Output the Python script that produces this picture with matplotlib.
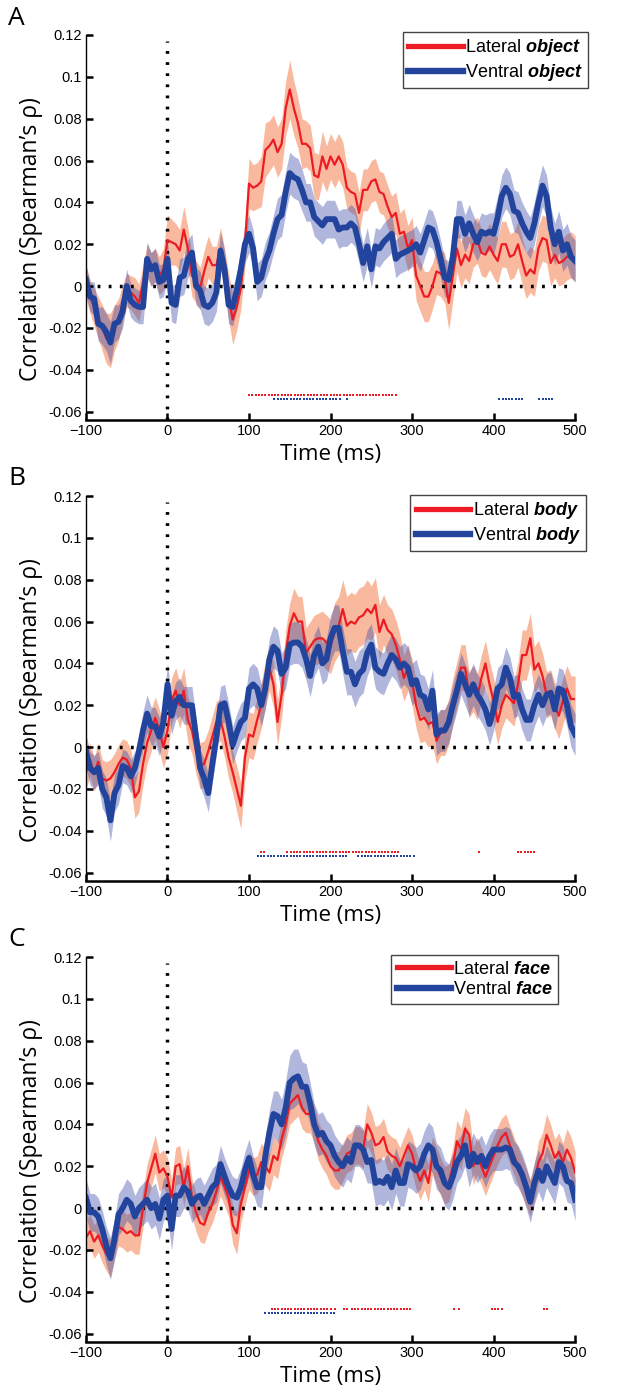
import matplotlib
matplotlib.use('Agg')
import matplotlib.pyplot as plt
from matplotlib.lines import Line2D
import numpy as np

plt.rcParams['font.family'] = ['Liberation Sans', 'DejaVu Sans']
plt.rcParams['mathtext.fontset'] = 'custom'
plt.rcParams['mathtext.bfit'] = 'Liberation Sans:italic:bold'
plt.rcParams['mathtext.rm'] = 'Liberation Sans'

# time axis, 5 ms steps from -100 to 500 ms
time_ms = np.arange(-100, 501, 5)

# ---- panel A: object ----
lat_object = [
    0.002, -0.005, -0.010, -0.015, -0.020, -0.025, -0.026, -0.020, -0.016, -0.008,
    -0.002, -0.003, -0.005, -0.008, 0.002, 0.012, 0.008, 0.010, 0.005, 0.008,
    0.022, 0.021, 0.020, 0.017, 0.027, 0.018, 0.005, 0.002, -0.001, 0.007,
    0.014, 0.010, 0.010, 0.018, 0.008, -0.005, -0.016, -0.010, -0.001, 0.020,
    0.049, 0.047, 0.048, 0.050, 0.065, 0.067, 0.070, 0.064, 0.068, 0.085,
    0.094, 0.085, 0.078, 0.068, 0.068, 0.066, 0.053, 0.052, 0.062, 0.056,
    0.062, 0.058, 0.062, 0.058, 0.047, 0.045, 0.044, 0.035, 0.046, 0.046,
    0.050, 0.051, 0.045, 0.044, 0.038, 0.033, 0.035, 0.025, 0.026, 0.018,
    0.022, 0.005, 0.000, -0.005, -0.005, 0.000, 0.007, 0.006, 0.004, -0.008,
    0.005, 0.018, 0.010, 0.015, 0.012, 0.020, 0.022, 0.016, 0.015, 0.019,
    0.015, 0.012, 0.020, 0.020, 0.014, 0.015, 0.020, 0.012, 0.005, 0.008,
    0.006, 0.018, 0.023, 0.022, 0.011, 0.015, 0.011, 0.012, 0.014, 0.015,
    0.013]
lat_object_sem = [
    0.008, 0.008, 0.009, 0.010, 0.011, 0.012, 0.013, 0.011, 0.010, 0.009,
    0.008, 0.008, 0.009, 0.009, 0.008, 0.008, 0.008, 0.008, 0.009, 0.010,
    0.012, 0.011, 0.010, 0.010, 0.011, 0.010, 0.010, 0.010, 0.010, 0.010,
    0.010, 0.009, 0.009, 0.010, 0.010, 0.011, 0.012, 0.011, 0.010, 0.011,
    0.012, 0.011, 0.011, 0.012, 0.013, 0.012, 0.012, 0.012, 0.012, 0.013,
    0.014, 0.013, 0.012, 0.012, 0.011, 0.011, 0.011, 0.011, 0.012, 0.011,
    0.011, 0.011, 0.011, 0.011, 0.010, 0.010, 0.010, 0.010, 0.010, 0.010,
    0.010, 0.010, 0.010, 0.010, 0.010, 0.010, 0.010, 0.010, 0.011, 0.011,
    0.011, 0.012, 0.012, 0.012, 0.012, 0.011, 0.011, 0.011, 0.012, 0.013,
    0.012, 0.011, 0.011, 0.011, 0.011, 0.011, 0.011, 0.011, 0.011, 0.011,
    0.011, 0.011, 0.011, 0.011, 0.011, 0.011, 0.011, 0.011, 0.011, 0.011,
    0.011, 0.011, 0.011, 0.011, 0.011, 0.011, 0.011, 0.011, 0.011, 0.011,
    0.011]
ven_object = [
    0.003, -0.005, -0.006, -0.018, -0.019, -0.022, -0.027, -0.018, -0.017, -0.012,
    0.000, -0.007, -0.009, -0.010, -0.010, 0.013, 0.008, 0.010, 0.002, 0.003,
    0.013, -0.008, -0.009, 0.004, 0.005, 0.013, 0.016, 0.000, -0.002, -0.009,
    -0.010, -0.008, -0.003, 0.017, 0.008, -0.009, -0.010, -0.002, 0.008, 0.020,
    0.025, 0.018, 0.002, 0.004, 0.012, 0.017, 0.025, 0.032, 0.034, 0.045,
    0.054, 0.052, 0.051, 0.046, 0.040, 0.040, 0.033, 0.031, 0.029, 0.032,
    0.032, 0.032, 0.027, 0.028, 0.028, 0.030, 0.028, 0.020, 0.011, 0.019,
    0.008, 0.019, 0.018, 0.021, 0.023, 0.025, 0.013, 0.015, 0.016, 0.017,
    0.018, 0.020, 0.016, 0.022, 0.028, 0.027, 0.021, 0.013, 0.004, 0.003,
    0.014, 0.032, 0.032, 0.025, 0.030, 0.025, 0.021, 0.026, 0.025, 0.026,
    0.025, 0.033, 0.043, 0.047, 0.044, 0.036, 0.035, 0.030, 0.026, 0.023,
    0.030, 0.040, 0.048, 0.043, 0.028, 0.020, 0.026, 0.017, 0.020, 0.014,
    0.012]
ven_object_sem = [
    0.007, 0.007, 0.008, 0.008, 0.009, 0.009, 0.010, 0.009, 0.008, 0.008,
    0.008, 0.008, 0.008, 0.008, 0.008, 0.008, 0.008, 0.008, 0.008, 0.008,
    0.009, 0.009, 0.009, 0.009, 0.009, 0.009, 0.009, 0.009, 0.009, 0.009,
    0.009, 0.009, 0.009, 0.009, 0.009, 0.009, 0.009, 0.009, 0.009, 0.009,
    0.009, 0.009, 0.009, 0.009, 0.009, 0.009, 0.009, 0.010, 0.010, 0.010,
    0.010, 0.010, 0.010, 0.010, 0.009, 0.009, 0.009, 0.009, 0.009, 0.009,
    0.009, 0.009, 0.009, 0.009, 0.009, 0.009, 0.009, 0.009, 0.009, 0.009,
    0.009, 0.009, 0.009, 0.009, 0.009, 0.009, 0.009, 0.009, 0.009, 0.009,
    0.009, 0.009, 0.009, 0.009, 0.009, 0.009, 0.009, 0.009, 0.009, 0.009,
    0.009, 0.009, 0.009, 0.009, 0.009, 0.009, 0.009, 0.009, 0.009, 0.009,
    0.010, 0.010, 0.010, 0.010, 0.010, 0.010, 0.010, 0.010, 0.010, 0.010,
    0.010, 0.010, 0.010, 0.010, 0.010, 0.010, 0.010, 0.010, 0.010, 0.010,
    0.010]

# ---- panel B: body ----
lat_body = [
    -0.012, -0.006, -0.013, -0.007, -0.015, -0.016, -0.015, -0.012, -0.008, -0.005,
    -0.006, -0.010, -0.024, -0.021, -0.008, 0.002, 0.008, 0.014, 0.008, 0.000,
    0.008, 0.022, 0.027, 0.020, 0.027, 0.013, 0.008, -0.002, -0.009, -0.008,
    -0.002, 0.005, 0.012, 0.013, 0.005, -0.005, -0.012, -0.020, -0.028, -0.005,
    0.006, 0.005, 0.013, 0.020, 0.030, 0.038, 0.030, 0.012, 0.025, 0.045,
    0.058, 0.064, 0.060, 0.060, 0.045, 0.048, 0.051, 0.052, 0.052, 0.050,
    0.048, 0.055, 0.058, 0.066, 0.058, 0.060, 0.059, 0.062, 0.063, 0.066,
    0.064, 0.068, 0.055, 0.061, 0.056, 0.054, 0.049, 0.042, 0.033, 0.038,
    0.031, 0.020, 0.013, 0.014, 0.011, 0.012, 0.003, 0.007, 0.007, 0.012,
    0.022, 0.030, 0.038, 0.038, 0.025, 0.028, 0.024, 0.033, 0.040, 0.030,
    0.022, 0.012, 0.020, 0.025, 0.023, 0.021, 0.030, 0.044, 0.044, 0.052,
    0.037, 0.040, 0.034, 0.025, 0.026, 0.020, 0.015, 0.022, 0.028, 0.023,
    0.023]
lat_body_sem = [
    0.008, 0.008, 0.008, 0.009, 0.009, 0.009, 0.009, 0.009, 0.009, 0.009,
    0.009, 0.009, 0.010, 0.010, 0.010, 0.010, 0.010, 0.010, 0.010, 0.010,
    0.011, 0.011, 0.011, 0.011, 0.011, 0.011, 0.011, 0.011, 0.011, 0.011,
    0.010, 0.010, 0.010, 0.010, 0.010, 0.010, 0.010, 0.011, 0.011, 0.011,
    0.011, 0.011, 0.011, 0.011, 0.011, 0.011, 0.011, 0.011, 0.011, 0.011,
    0.011, 0.012, 0.012, 0.012, 0.012, 0.012, 0.012, 0.012, 0.013, 0.013,
    0.013, 0.014, 0.014, 0.014, 0.014, 0.014, 0.014, 0.014, 0.014, 0.014,
    0.013, 0.013, 0.013, 0.012, 0.012, 0.012, 0.012, 0.012, 0.011, 0.011,
    0.011, 0.011, 0.011, 0.011, 0.011, 0.011, 0.011, 0.011, 0.011, 0.011,
    0.011, 0.011, 0.011, 0.011, 0.011, 0.011, 0.011, 0.011, 0.011, 0.011,
    0.011, 0.011, 0.011, 0.011, 0.011, 0.011, 0.011, 0.012, 0.012, 0.012,
    0.011, 0.011, 0.011, 0.011, 0.011, 0.011, 0.011, 0.011, 0.011, 0.011,
    0.011]
ven_body = [
    -0.002, -0.010, -0.012, -0.010, -0.020, -0.024, -0.035, -0.022, -0.018, -0.009,
    -0.010, -0.014, -0.010, -0.002, 0.008, 0.016, 0.010, 0.010, 0.005, 0.012,
    0.030, 0.015, 0.022, 0.024, 0.020, 0.020, 0.020, 0.005, -0.010, -0.015,
    -0.022, -0.008, 0.005, 0.020, 0.021, 0.012, 0.001, 0.007, 0.012, 0.014,
    0.028, 0.030, 0.028, 0.020, 0.028, 0.042, 0.048, 0.046, 0.035, 0.038,
    0.049, 0.050, 0.050, 0.048, 0.042, 0.034, 0.044, 0.048, 0.040, 0.042,
    0.052, 0.057, 0.057, 0.046, 0.036, 0.036, 0.030, 0.035, 0.037, 0.045,
    0.049, 0.038, 0.036, 0.035, 0.040, 0.044, 0.042, 0.038, 0.040, 0.038,
    0.030, 0.032, 0.025, 0.024, 0.018, 0.027, 0.006, 0.008, 0.008, 0.012,
    0.020, 0.027, 0.035, 0.030, 0.025, 0.030, 0.025, 0.022, 0.018, 0.011,
    0.018, 0.028, 0.030, 0.038, 0.033, 0.024, 0.025, 0.018, 0.013, 0.013,
    0.020, 0.025, 0.020, 0.025, 0.026, 0.018, 0.028, 0.027, 0.020, 0.010,
    0.006]
ven_body_sem = [
    0.008, 0.008, 0.008, 0.008, 0.009, 0.009, 0.010, 0.009, 0.009, 0.008,
    0.008, 0.008, 0.008, 0.008, 0.009, 0.009, 0.009, 0.009, 0.009, 0.009,
    0.010, 0.009, 0.009, 0.009, 0.009, 0.009, 0.009, 0.009, 0.009, 0.009,
    0.009, 0.009, 0.009, 0.009, 0.009, 0.009, 0.009, 0.009, 0.009, 0.009,
    0.010, 0.010, 0.010, 0.010, 0.010, 0.010, 0.010, 0.010, 0.010, 0.010,
    0.010, 0.010, 0.010, 0.010, 0.010, 0.010, 0.010, 0.010, 0.010, 0.010,
    0.011, 0.011, 0.011, 0.011, 0.011, 0.011, 0.011, 0.011, 0.011, 0.011,
    0.010, 0.010, 0.010, 0.010, 0.010, 0.010, 0.010, 0.010, 0.010, 0.010,
    0.010, 0.010, 0.010, 0.010, 0.010, 0.010, 0.010, 0.010, 0.010, 0.010,
    0.010, 0.010, 0.010, 0.010, 0.010, 0.010, 0.010, 0.010, 0.010, 0.010,
    0.010, 0.010, 0.010, 0.010, 0.010, 0.010, 0.010, 0.010, 0.010, 0.010,
    0.010, 0.010, 0.010, 0.010, 0.010, 0.010, 0.010, 0.010, 0.010, 0.010,
    0.010]

# ---- panel C: face ----
lat_face = [
    -0.014, -0.011, -0.016, -0.013, -0.018, -0.022, -0.024, -0.015, -0.009, -0.010,
    -0.012, -0.011, -0.013, -0.013, 0.000, 0.012, 0.019, 0.026, 0.017, 0.019,
    0.015, 0.005, 0.020, 0.021, 0.010, 0.020, 0.005, -0.002, -0.007, -0.008,
    -0.002, 0.002, 0.008, 0.015, 0.010, 0.005, -0.008, -0.012, 0.002, 0.010,
    0.018, 0.015, 0.016, 0.022, 0.020, 0.017, 0.025, 0.023, 0.033, 0.040,
    0.050, 0.052, 0.054, 0.048, 0.045, 0.045, 0.040, 0.032, 0.028, 0.025,
    0.020, 0.018, 0.018, 0.022, 0.026, 0.027, 0.030, 0.030, 0.028, 0.040,
    0.036, 0.030, 0.031, 0.034, 0.027, 0.025, 0.024, 0.020, 0.025, 0.030,
    0.026, 0.018, 0.013, 0.018, 0.012, 0.025, 0.020, 0.015, 0.011, 0.012,
    0.020, 0.032, 0.028, 0.038, 0.035, 0.020, 0.025, 0.020, 0.015, 0.020,
    0.025, 0.030, 0.034, 0.036, 0.030, 0.025, 0.020, 0.015, 0.010, 0.005,
    0.012, 0.022, 0.026, 0.035, 0.030, 0.024, 0.027, 0.022, 0.028, 0.024,
    0.017]
lat_face_sem = [
    0.008, 0.008, 0.008, 0.008, 0.008, 0.008, 0.009, 0.009, 0.009, 0.009,
    0.009, 0.009, 0.009, 0.009, 0.009, 0.009, 0.009, 0.009, 0.009, 0.009,
    0.009, 0.009, 0.009, 0.009, 0.009, 0.009, 0.009, 0.009, 0.009, 0.009,
    0.009, 0.009, 0.009, 0.009, 0.009, 0.009, 0.009, 0.010, 0.009, 0.009,
    0.009, 0.009, 0.009, 0.009, 0.009, 0.009, 0.009, 0.009, 0.009, 0.009,
    0.010, 0.010, 0.010, 0.010, 0.009, 0.009, 0.009, 0.009, 0.009, 0.009,
    0.009, 0.009, 0.009, 0.009, 0.009, 0.009, 0.009, 0.009, 0.009, 0.010,
    0.010, 0.009, 0.009, 0.009, 0.009, 0.009, 0.009, 0.009, 0.009, 0.009,
    0.009, 0.009, 0.009, 0.009, 0.009, 0.009, 0.009, 0.009, 0.009, 0.009,
    0.009, 0.010, 0.010, 0.010, 0.010, 0.009, 0.009, 0.009, 0.009, 0.009,
    0.009, 0.009, 0.009, 0.009, 0.009, 0.009, 0.009, 0.009, 0.009, 0.009,
    0.009, 0.010, 0.010, 0.010, 0.010, 0.009, 0.009, 0.009, 0.010, 0.010,
    0.010]
ven_face = [
    0.005, -0.002, -0.002, -0.004, -0.010, -0.018, -0.024, -0.015, -0.003, 0.000,
    0.004, 0.002, -0.004, 0.000, 0.002, 0.004, 0.000, 0.002, -0.005, 0.004,
    0.006, -0.010, 0.006, 0.006, 0.010, 0.008, 0.002, 0.005, 0.006, 0.002,
    0.006, 0.010, 0.012, 0.021, 0.015, 0.010, 0.006, 0.005, 0.010, 0.018,
    0.024, 0.016, 0.010, 0.010, 0.025, 0.036, 0.045, 0.044, 0.040, 0.048,
    0.060, 0.062, 0.063, 0.058, 0.058, 0.050, 0.040, 0.035, 0.036, 0.032,
    0.030, 0.025, 0.022, 0.020, 0.024, 0.022, 0.030, 0.030, 0.028, 0.022,
    0.023, 0.012, 0.013, 0.012, 0.015, 0.010, 0.018, 0.012, 0.012, 0.021,
    0.020, 0.018, 0.020, 0.026, 0.030, 0.028, 0.020, 0.018, 0.012, 0.010,
    0.015, 0.022, 0.025, 0.030, 0.020, 0.026, 0.022, 0.025, 0.020, 0.025,
    0.028, 0.028, 0.028, 0.029, 0.028, 0.022, 0.020, 0.016, 0.010, 0.003,
    0.012, 0.018, 0.013, 0.020, 0.016, 0.012, 0.022, 0.020, 0.013, 0.012,
    0.004]
ven_face_sem = [
    0.009, 0.009, 0.009, 0.009, 0.009, 0.009, 0.010, 0.010, 0.010, 0.010,
    0.010, 0.010, 0.010, 0.010, 0.010, 0.010, 0.010, 0.010, 0.010, 0.010,
    0.010, 0.010, 0.010, 0.010, 0.010, 0.009, 0.009, 0.009, 0.009, 0.009,
    0.009, 0.009, 0.009, 0.009, 0.009, 0.009, 0.009, 0.009, 0.009, 0.009,
    0.009, 0.009, 0.009, 0.010, 0.010, 0.011, 0.011, 0.012, 0.012, 0.013,
    0.013, 0.014, 0.013, 0.012, 0.011, 0.010, 0.010, 0.010, 0.010, 0.010,
    0.010, 0.010, 0.010, 0.010, 0.010, 0.010, 0.010, 0.010, 0.010, 0.010,
    0.011, 0.011, 0.011, 0.011, 0.011, 0.011, 0.011, 0.011, 0.011, 0.011,
    0.011, 0.011, 0.011, 0.011, 0.011, 0.011, 0.011, 0.011, 0.011, 0.011,
    0.011, 0.010, 0.010, 0.010, 0.010, 0.010, 0.010, 0.010, 0.010, 0.010,
    0.010, 0.010, 0.010, 0.010, 0.010, 0.010, 0.010, 0.010, 0.010, 0.010,
    0.010, 0.010, 0.010, 0.010, 0.010, 0.010, 0.010, 0.010, 0.010, 0.010,
    0.010]

# significant time windows (ms), start and end
sig_lat_object = [(100, 282)]
sig_ven_object = [(131, 211), (220, 220), (407, 437), (456, 474)]
sig_lat_body = [(115, 121), (147, 284), (382, 382), (430, 453)]
sig_ven_body = [(111, 221), (234, 305)]
sig_lat_face = [(128, 200), (206, 208), (216, 220), (226, 300), (352, 354),
                (358, 360), (398, 410), (462, 468)]
sig_ven_face = [(120, 205)]

panel_letters = ['A', 'B', 'C']
category_names = ['object', 'body', 'face']

red = '#ED1C24'
red_fill = '#F4743F'
blue = '#22449C'
blue_fill = '#3A4AA8'


def draw_sig(ax, windows, y, color):
    # one small dot every 4 ms inside each significant window
    for start, end in windows:
        t = np.arange(start, end + 1, 4)
        ax.plot(t, np.full(len(t), y), 's', color=color, ms=2.1, mew=0)


def draw_panel(ax, lat, lat_sem, ven, ven_sem, sig_lat, sig_ven, sig_y, name, leg_x, leg_y):
    lat = np.array(lat)
    ven = np.array(ven)
    lat_sem = np.array(lat_sem)
    ven_sem = np.array(ven_sem)

    ax.fill_between(time_ms, lat - lat_sem, lat + lat_sem, color=red_fill, alpha=0.5, lw=0)
    ax.fill_between(time_ms, ven - ven_sem, ven + ven_sem, color=blue_fill, alpha=0.4, lw=0)

    # dotted zero lines
    ax.plot([-100, 500], [0, 0], color='k', lw=2.5, ls=(0, (0.8, 2.4)), dash_capstyle='butt')
    ax.plot([0, 0], [-0.064, 0.117], color='k', lw=2.5, ls=(0, (0.8, 2.4)), dash_capstyle='butt')

    ax.plot(time_ms, lat, color=red, lw=1.6)
    ax.plot(time_ms, ven, color=blue, lw=4.2)

    draw_sig(ax, sig_lat, sig_y, red)
    draw_sig(ax, sig_ven, sig_y - 0.002, blue)

    ax.set_xlim(-100, 500)
    ax.set_ylim(-0.064, 0.12)
    ax.set_xticks([-100, 0, 100, 200, 300, 400, 500])
    ax.set_yticks([-0.06, -0.04, -0.02, 0, 0.02, 0.04, 0.06, 0.08, 0.1, 0.12])
    ax.set_yticklabels(['-0.06', '-0.04', '-0.02', '0', '0.02', '0.04', '0.06', '0.08', '0.1', '0.12'])
    ax.tick_params(direction='in', length=5, width=1.8, labelsize=10.5, pad=3)
    for s in ['top', 'right']:
        ax.spines[s].set_visible(False)
    ax.spines['left'].set_linewidth(1.0)
    ax.spines['bottom'].set_linewidth(1.8)

    ax.set_xlabel('Time (ms)', fontsize=16, family=['Open Sans', 'DejaVu Sans'])
    ax.xaxis.set_label_coords(0.5, -0.062)
    ax.set_ylabel('Correlation (Spearman\u2019s \u03c1)', fontsize=16.5, family=['Open Sans', 'DejaVu Sans'])
    ax.yaxis.set_label_coords(-0.088, 0.47)

    handles = [Line2D([], [], color=red, lw=3.8), Line2D([], [], color=blue, lw=4.6)]
    labels = ['Lateral $\\mathbfit{%s}$' % name, 'Ventral $\\mathbfit{%s}$' % name]
    leg = ax.legend(handles, labels, loc='upper left', bbox_to_anchor=(leg_x, leg_y),
                    fontsize=13, handlelength=3.0, handletextpad=0.15, borderpad=0.3,
                    labelspacing=0.2, borderaxespad=0, fancybox=False, framealpha=1)
    leg.get_frame().set_edgecolor('#444444')
    leg.get_frame().set_linewidth(1.0)


fig = plt.figure(figsize=(6.32, 14), dpi=100)

ax_pos = [(0.136, 0.700, 0.774, 0.275),
          (0.136, 0.3707, 0.774, 0.275),
          (0.136, 0.0414, 0.774, 0.275)]
letter_y = [0.987, 0.658, 0.3286]
leg_pos = [(0.648, 1.008), (0.663, 1.003), (0.624, 1.005)]
data = [(lat_object, lat_object_sem, ven_object, ven_object_sem, sig_lat_object, sig_ven_object, -0.052),
        (lat_body, lat_body_sem, ven_body, ven_body_sem, sig_lat_body, sig_ven_body, -0.050),
        (lat_face, lat_face_sem, ven_face, ven_face_sem, sig_lat_face, sig_ven_face, -0.048)]

for i in range(3):
    ax = fig.add_axes(ax_pos[i])
    lat, lat_sem, ven, ven_sem, s_lat, s_ven, sy = data[i]
    draw_panel(ax, lat, lat_sem, ven, ven_sem, s_lat, s_ven, sy, category_names[i],
               leg_pos[i][0], leg_pos[i][1])
    fig.text(0.013, letter_y[i], panel_letters[i], fontsize=19, va='center', ha='left',
             family=['Open Sans', 'DejaVu Sans'])

fig.savefig('out.png', dpi=100)
